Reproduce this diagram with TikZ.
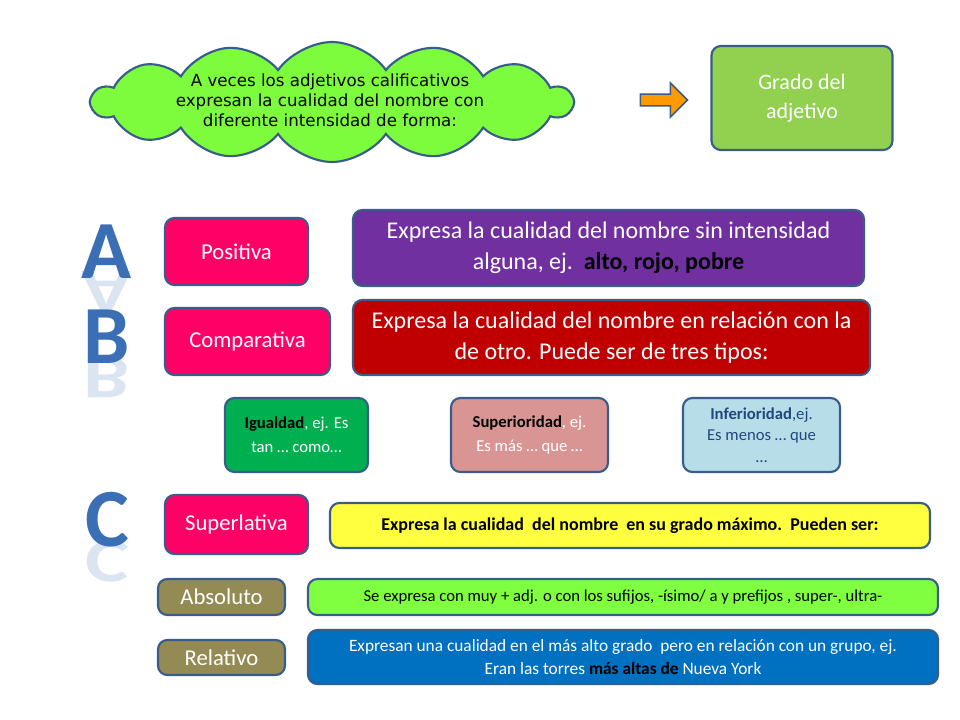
\documentclass[tikz,border=0pt]{standalone}
\usepackage{fontspec}
\setmainfont{Carlito}
\newfontfamily\cloudfont{DejaVu Sans}
\usetikzlibrary{shapes.symbols,shapes.arrows}
\definecolor{bord}{HTML}{385D8A}
\definecolor{cloudg}{HTML}{7CFC3C}
\definecolor{grado}{HTML}{92D050}
\definecolor{mag}{HTML}{FF0066}
\definecolor{purp}{HTML}{7030A0}
\definecolor{dred}{HTML}{C00000}
\definecolor{igu}{HTML}{00B050}
\definecolor{sup}{HTML}{D99594}
\definecolor{inf}{HTML}{B7DEE8}
\definecolor{infT}{HTML}{1F497D}
\definecolor{yel}{HTML}{FFFF40}
\definecolor{olive}{HTML}{948A54}
\definecolor{brg}{HTML}{80FF40}
\definecolor{blu}{HTML}{0070C0}
\definecolor{letr}{HTML}{3A6FB5}
\tikzset{
 bx/.style={draw=bord,line width=1.6pt,rounded corners=7pt,align=center,inner sep=2pt},
 letter/.style={font=\bfseries\fontsize{62}{62}\selectfont,text=letr},
 refl/.style={font=\bfseries\fontsize{62}{62}\selectfont,text=letr,opacity=0.18,yscale=-0.75}
}
\begin{document}
\begin{tikzpicture}[x=0.75pt,y=-0.75pt]
\useasboundingbox (0,0) rectangle (960,720);
\fill[white] (0,0) rectangle (960,720);
% cloud
\node[cloud,cloud puffs=14,cloud puff arc=110,aspect=3.8,draw=bord,line width=1.6pt,fill=cloudg,inner sep=0pt,
 minimum width=480*0.75pt,minimum height=120*0.75pt]
 (cl) at (332,102) {};
\node[align=center,font=\cloudfont\fontsize{12.5}{15}\selectfont] (clt) at (330,100) {A veces los adjetivos calificativos\\expresan la cualidad del nombre con\\diferente intensidad de forma:};
\node[single arrow,draw=bord,line width=1.2pt,fill=orange!80!yellow,minimum width=34*0.75pt,
 single arrow head extend=5pt,minimum height=47*0.75pt,inner sep=2pt] (ar) at (661,100) {};
\node[bx,fill=grado,text=white,minimum width=181*0.75pt,minimum height=104*0.75pt,font=\fontsize{16.5}{22}\selectfont] (gr) at (802,98) {Grado del\\adjetivo};
% letters
\node[refl] (lar) at (107,292) {A};
\node[refl] (lbr) at (107,378) {B};
\node[refl] (lcr) at (107,562) {C};
\node[letter] (la) at (107,252) {A};
\node[letter] (lb) at (107,337) {B};
\node[letter] (lc) at (107,520) {C};
% rows
\node[bx,fill=mag,text=white,minimum width=143*0.75pt,minimum height=67*0.75pt,font=\fontsize{17}{20}\selectfont] (pos) at (236.5,251.5) {Positiva};
\node[bx,fill=purp,text=white,minimum width=511*0.75pt,minimum height=76*0.75pt,font=\fontsize{18}{23}\selectfont] (pd) at (608.5,248) {Expresa la cualidad del nombre sin intensidad\\alguna, ej.\ \ \textcolor{black}{\bfseries alto, rojo, pobre}};
\node[bx,fill=mag,text=white,minimum width=165*0.75pt,minimum height=67*0.75pt,font=\fontsize{17}{20}\selectfont] (com) at (247.5,341.5) {Comparativa};
\node[bx,fill=dred,text=white,minimum width=517*0.75pt,minimum height=75*0.75pt,font=\fontsize{18}{23}\selectfont] (cd) at (611.5,337.5) {Expresa la cualidad del nombre en relación con la\\de otro. Puede ser de tres tipos:};
\node[bx,fill=igu,text=white,minimum width=143*0.75pt,minimum height=74*0.75pt,font=\fontsize{12.5}{18}\selectfont] (ig) at (296.5,435) {\textcolor{black}{\bfseries Igualdad}, ej. Es\\tan … como…};
\node[bx,fill=sup,text=white,minimum width=157*0.75pt,minimum height=74*0.75pt,font=\fontsize{12.5}{18}\selectfont] (su) at (529.5,435) {\textcolor{black}{\bfseries Superioridad}, ej.\\Es más … que …};
\node[bx,fill=inf,text=infT,minimum width=157*0.75pt,minimum height=74*0.75pt,font=\fontsize{12.5}{16}\selectfont] (in) at (761.5,435) {\textbf{Inferioridad},ej.\\Es menos … que\\…};
\node[bx,fill=mag,text=white,minimum width=143*0.75pt,minimum height=59*0.75pt,font=\fontsize{17}{20}\selectfont] (spl) at (236.5,524.5) {Superlativa};
\node[bx,fill=yel,text=black,minimum width=600*0.75pt,minimum height=45*0.75pt,font=\bfseries\fontsize{13.5}{16}\selectfont] (sd) at (630,525.5) {Expresa la cualidad\ \ del nombre\ \ en su grado máximo.\ \ Pueden ser:};
\node[bx,fill=olive,text=white,minimum width=127*0.75pt,minimum height=36*0.75pt,font=\fontsize{17}{20}\selectfont] (ab) at (221.5,597) {Absoluto};
\node[bx,fill=brg,text=black,minimum width=630*0.75pt,minimum height=36*0.75pt,font=\fontsize{12.5}{15}\selectfont] (abd) at (623,597) {Se expresa con muy + adj. o con los sufijos, -ísimo/ a y prefijos , super-, ultra-};
\node[bx,fill=olive,text=white,minimum width=127*0.75pt,minimum height=35*0.75pt,font=\fontsize{17}{20}\selectfont] (re) at (221.5,657.5) {Relativo};
\node[bx,fill=blu,text=white,minimum width=630*0.75pt,minimum height=54*0.75pt,font=\fontsize{13}{17}\selectfont] (red) at (623,657) {Expresan una cualidad en el más alto grado\ \ pero en relación con un grupo, ej.\\Eran las torres \textcolor{black}{\bfseries más altas de} Nueva York};
\end{tikzpicture}
\end{document}
